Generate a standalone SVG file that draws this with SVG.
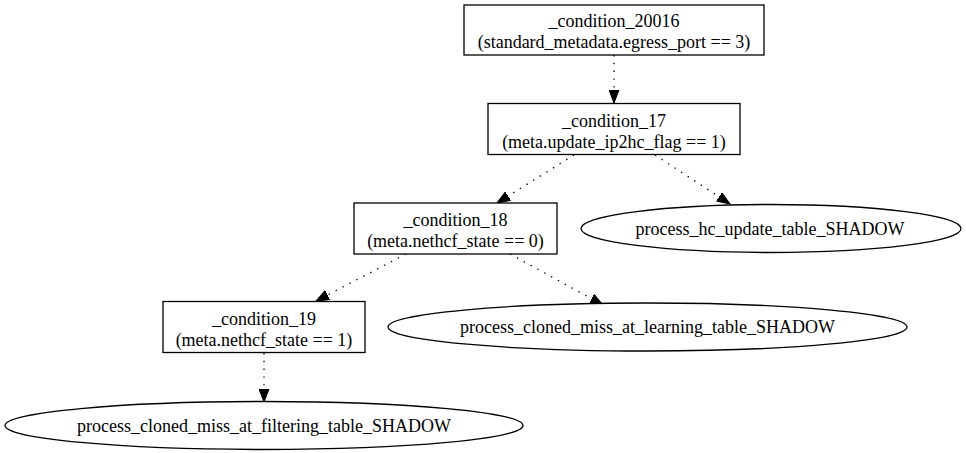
<svg xmlns="http://www.w3.org/2000/svg" width="966" height="453" viewBox="0 0 966 453">
<style>
.n{fill:#fff;stroke:#000;stroke-width:1.3}
.t{font-family:"Liberation Serif","Times New Roman",serif;font-size:18px;text-anchor:middle;fill:#000}
.e{fill:none;stroke:#000;stroke-width:1.3;stroke-dasharray:1.4,6.4}
</style>
<defs>
<marker id="ah" markerUnits="userSpaceOnUse" markerWidth="14" markerHeight="11" refX="13" refY="5" orient="auto" viewBox="0 0 14 10">
<polygon points="0,0 13,5 0,10" fill="#000" stroke="#000" stroke-width="1"/>
</marker>
</defs>
<rect width="966" height="453" fill="#fff"/>
<g id="connectors">
<path class="e" d="M614,55 L614,103" marker-end="url(#ah)"/>
<path class="e" d="M574,155 L497,203" marker-end="url(#ah)"/>
<path class="e" d="M655,155 L730,204" marker-end="url(#ah)"/>
<path class="e" d="M406,254 L316,301" marker-end="url(#ah)"/>
<path class="e" d="M510,254 L603,305" marker-end="url(#ah)"/>
<path class="e" d="M264,353 L264,402" marker-end="url(#ah)"/>
</g>
<g id="condition_20016">
<rect class="n" x="464" y="5" width="300" height="50"/>
<text class="t" x="614" y="27">_condition_20016</text>
<text class="t" x="614" y="48">(standard_metadata.egress_port == 3)</text>
</g>
<g id="condition_17">
<rect class="n" x="488" y="103.5" width="252" height="51"/>
<text class="t" x="614" y="126.5">_condition_17</text>
<text class="t" x="614" y="147.5">(meta.update_ip2hc_flag == 1)</text>
</g>
<g id="condition_18">
<rect class="n" x="354" y="203" width="203" height="51"/>
<text class="t" x="455.5" y="226">_condition_18</text>
<text class="t" x="455.5" y="247">(meta.nethcf_state == 0)</text>
</g>
<g id="condition_19">
<rect class="n" x="163" y="301.5" width="202" height="51"/>
<text class="t" x="264" y="324.5">_condition_19</text>
<text class="t" x="264" y="345.5">(meta.nethcf_state == 1)</text>
</g>
<g id="process_hc_update_table_SHADOW">
<ellipse class="n" cx="771" cy="228.5" rx="190" ry="24"/>
<text class="t" x="770" y="234.5">process_hc_update_table_SHADOW</text>
</g>
<g id="process_cloned_miss_at_learning_table_SHADOW">
<ellipse class="n" cx="647.5" cy="327" rx="259.5" ry="24"/>
<text class="t" x="647.5" y="333">process_cloned_miss_at_learning_table_SHADOW</text>
</g>
<g id="process_cloned_miss_at_filtering_table_SHADOW">
<ellipse class="n" cx="264" cy="425.5" rx="259" ry="24"/>
<text class="t" x="264" y="431.5">process_cloned_miss_at_filtering_table_SHADOW</text>
</g>
</svg>
